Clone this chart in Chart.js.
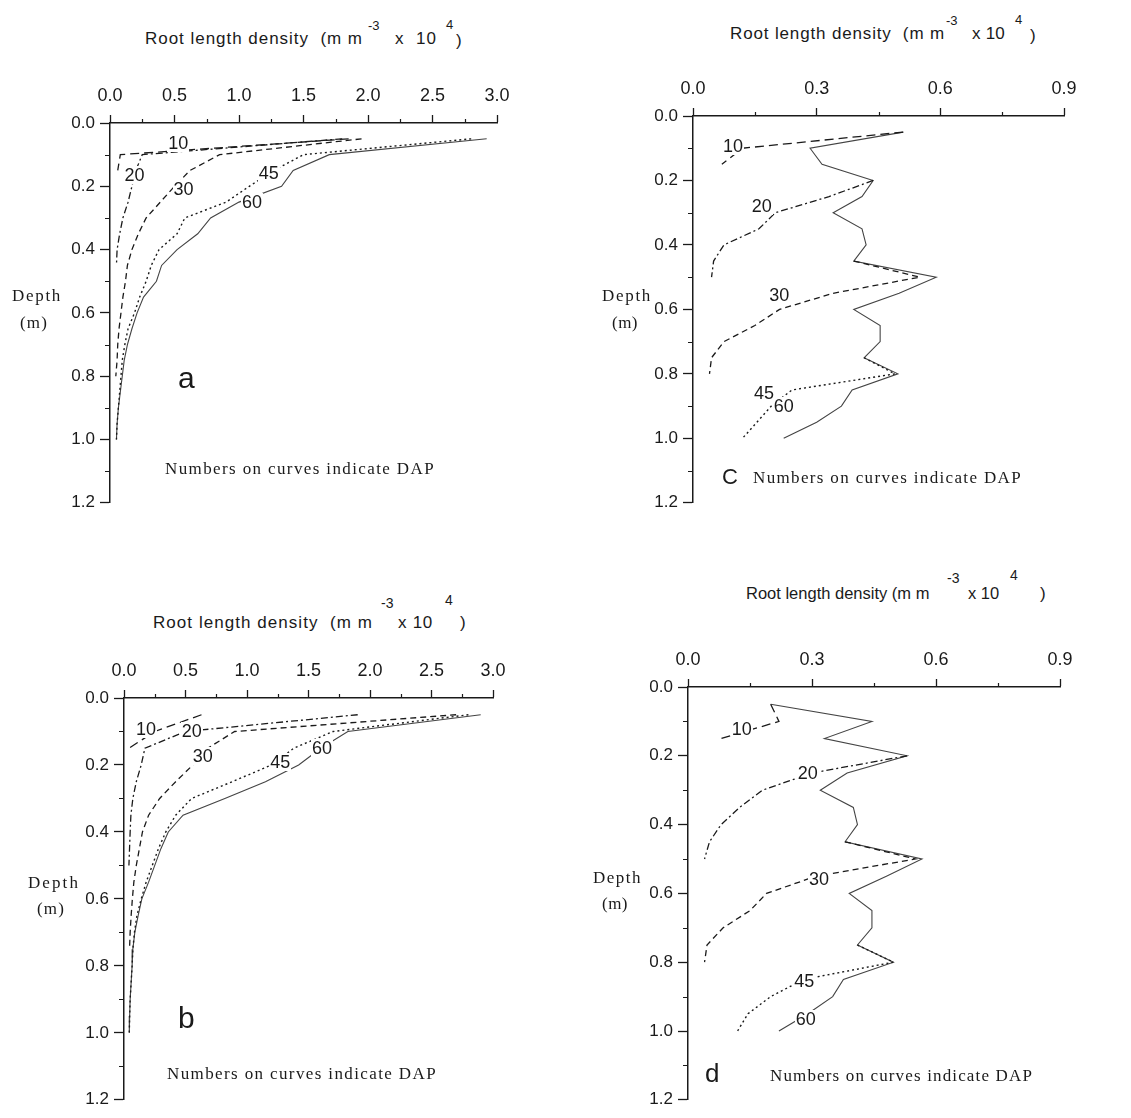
<!DOCTYPE html>
<html><head><meta charset="utf-8">
<script src="https://cdn.jsdelivr.net/npm/chart.js@4/dist/chart.umd.min.js"></script>
<style>
body{margin:0;background:#fff;width:1131px;height:1118px;position:relative;overflow:hidden;font-family:"Liberation Sans",Arial,sans-serif;color:#1a1a1a}
.box{position:absolute}
.t{position:absolute;white-space:pre;line-height:1;transform:translateY(-50%);z-index:3}
.serif{font-family:"Liberation Serif","DejaVu Serif",serif}
.cl{position:absolute;white-space:pre;line-height:1;background:#fff;padding:0 1px;transform:translate(-50%,-50%);font-size:18px;z-index:3}
</style></head><body>

<!-- panel a texts -->
<div class="t" data-w="218" style="left:145px;top:38px;font-size:17px">Root length density  (m m</div>
<div class="t" style="left:368px;top:25px;font-size:13px">-3</div>
<div class="t" data-w="42" style="left:395px;top:38px;font-size:17px">x  10</div>
<div class="t" style="left:446px;top:24px;font-size:13px">4</div>
<div class="t" style="left:456px;top:40px;font-size:17px">)</div>
<div class="t serif" data-w="50" style="left:12px;top:295px;font-size:17px">Depth</div>
<div class="t serif" data-w="28" style="left:20px;top:322px;font-size:17px">(m)</div>
<div class="t" style="left:178px;top:378px;font-size:30px">a</div>
<div class="t serif" data-w="270" style="left:165px;top:468px;font-size:17px">Numbers on curves indicate DAP</div>

<!-- panel c texts -->
<div class="t" data-w="215" style="left:730px;top:33px;font-size:17px">Root length density  (m m</div>
<div class="t" style="left:946px;top:20px;font-size:13px">-3</div>
<div class="t" data-w="33" style="left:972px;top:33px;font-size:17px">x 10</div>
<div class="t" style="left:1015px;top:19px;font-size:13px">4</div>
<div class="t" style="left:1030px;top:35px;font-size:17px">)</div>
<div class="t serif" data-w="50" style="left:602px;top:295px;font-size:17px">Depth</div>
<div class="t serif" data-w="26" style="left:612px;top:322px;font-size:17px">(m)</div>
<div class="t" style="left:722px;top:477px;font-size:22px">C</div>
<div class="t serif" data-w="269" style="left:753px;top:477px;font-size:17px">Numbers on curves indicate DAP</div>

<!-- panel b texts -->
<div class="t" data-w="220" style="left:153px;top:622px;font-size:17px">Root length density  (m m</div>
<div class="t" style="left:381px;top:603px;font-size:14px">-3</div>
<div class="t" data-w="35" style="left:398px;top:622px;font-size:17px">x 10</div>
<div class="t" style="left:445px;top:600px;font-size:14px">4</div>
<div class="t" style="left:460px;top:622px;font-size:17px">)</div>
<div class="t serif" data-w="52" style="left:28px;top:882px;font-size:17px">Depth</div>
<div class="t serif" data-w="28" style="left:37px;top:908px;font-size:17px">(m)</div>
<div class="t" style="left:178px;top:1018px;font-size:30px">b</div>
<div class="t serif" data-w="270" style="left:167px;top:1073px;font-size:17px">Numbers on curves indicate DAP</div>

<!-- panel d texts -->
<div class="t" style="left:746px;top:593px;font-size:16.5px">Root length density (m m</div>
<div class="t" style="left:947px;top:578px;font-size:14px">-3</div>
<div class="t" style="left:968px;top:593px;font-size:16.5px">x 10</div>
<div class="t" style="left:1010px;top:575px;font-size:14px">4</div>
<div class="t" style="left:1040px;top:593px;font-size:17px">)</div>
<div class="t serif" data-w="49" style="left:593px;top:877px;font-size:17px">Depth</div>
<div class="t serif" data-w="26" style="left:602px;top:903px;font-size:17px">(m)</div>
<div class="t" style="left:705px;top:1073px;font-size:26px">d</div>
<div class="t serif" data-w="263" style="left:770px;top:1075px;font-size:17px">Numbers on curves indicate DAP</div>

<div class="box" style="left:50px;top:83px;width:472px;height:435px"><canvas id="ca" width="472" height="435"></canvas></div>
<div class="box" style="left:64px;top:658px;width:454px;height:457px"><canvas id="cb" width="454" height="457"></canvas></div>
<div class="box" style="left:633px;top:76px;width:456px;height:442px"><canvas id="cc" width="456" height="442"></canvas></div>
<div class="box" style="left:628px;top:647px;width:457px;height:468px"><canvas id="cd" width="457" height="468"></canvas></div>

<script>
// ---------- DATA ----------
const depths = [0.05,0.10,0.15,0.20,0.25,0.30,0.35,0.40,0.45,0.50,0.55,0.60,0.65,0.70,0.75,0.80,0.85,0.90,0.95,1.00];
const dapLabels = ["10","20","30","45","60"];
const yTickValues = [0,0.2,0.4,0.6,0.8,1.0,1.2];
const yMinorTicks = [0.1,0.3,0.5,0.7,0.9,1.1];
const xMinorAB = [0.25,0.75,1.25,1.75,2.25,2.75];
const xMinorCD = [0.15,0.45,0.75];

// panel a
const a10 = [1.85,0.08,0.06,null,null,null,null,null,null,null,null,null,null,null,null,null,null,null,null,null];
const a20 = [1.80,0.25,0.20,0.17,0.14,0.10,0.075,0.055,0.05,null,null,null,null,null,null,null,null,null,null,null];
const a30 = [1.95,0.85,0.62,0.50,0.39,0.28,0.22,0.17,0.135,0.12,0.10,0.085,0.07,0.06,0.055,0.045,null,null,null,null];
const a45 = [2.80,1.50,1.27,1.08,0.90,0.58,0.52,0.38,0.32,0.28,0.23,0.19,0.14,0.115,0.095,0.085,0.075,0.065,0.055,0.05];
const a60 = [2.92,1.70,1.42,1.33,1.00,0.78,0.68,0.52,0.40,0.36,0.26,0.21,0.17,0.135,0.11,0.095,0.08,0.065,0.055,0.05];
const aLabelX = [0.53,0.19,0.57,1.23,1.10];
const aLabelY = [0.063,0.165,0.21,0.157,0.25];

// panel b
const b10 = [0.63,0.25,0.04,null,null,null,null,null,null,null,null,null,null,null,null,null,null,null,null,null];
const b20 = [1.90,0.50,0.17,0.14,0.10,0.072,0.056,0.05,0.045,0.04,null,null,null,null,null,null,null,null,null,null];
const b30 = [2.70,0.90,0.68,0.56,0.42,0.29,0.20,0.15,0.125,0.10,0.08,0.068,0.058,0.05,0.045,null,null,null,null,null];
const b45 = [2.80,1.70,1.38,1.20,0.88,0.55,0.42,0.34,0.28,0.23,0.18,0.14,0.105,0.085,0.072,0.066,0.058,0.05,0.046,0.043];
const b60 = [2.90,1.82,1.60,1.42,1.15,0.82,0.48,0.36,0.30,0.25,0.20,0.145,0.115,0.088,0.072,0.066,0.058,0.05,0.046,0.043];
const bLabelX = [0.18,0.55,0.64,1.27,1.61];
const bLabelY = [0.094,0.10,0.174,0.19,0.15];

// panel c
const c10 = [0.51,0.12,0.07,null,null,null,null,null,null,null,null,null,null,null,null,null,null,null,null,null];
const c20 = [null,null,null,0.437,0.33,0.20,0.16,0.075,0.05,0.045,null,null,null,null,null,null,null,null,null,null];
const c30 = [null,null,null,null,null,null,null,null,0.39,0.55,0.34,0.21,0.15,0.075,0.045,0.04,null,null,null,null];
const c45 = [null,null,null,null,null,null,null,null,null,null,null,null,null,null,0.415,0.49,0.24,0.19,0.155,0.12];
const c60 = [0.51,0.284,0.313,0.437,0.41,0.34,0.41,0.42,0.39,0.59,0.50,0.39,0.454,0.454,0.415,0.497,0.386,0.36,0.30,0.22];
const cLabelX = [0.097,0.167,0.209,0.172,0.22];
const cLabelY = [0.094,0.28,0.555,0.86,0.90];

// panel d
const d10 = [0.20,0.22,0.08,null,null,null,null,null,null,null,null,null,null,null,null,null,null,null,null,null];
const d20 = [null,null,null,0.53,0.30,0.18,0.125,0.08,0.052,0.04,null,null,null,null,null,null,null,null,null,null];
const d30 = [null,null,null,null,null,null,null,null,0.38,0.55,0.31,0.19,0.15,0.085,0.046,0.04,null,null,null,null];
const d45 = [null,null,null,null,null,null,null,null,null,null,null,null,null,null,0.41,0.497,0.28,0.20,0.145,0.12];
const d60 = [0.20,0.445,0.33,0.53,0.385,0.32,0.40,0.41,0.38,0.566,0.48,0.39,0.445,0.445,0.41,0.497,0.376,0.35,0.29,0.22];
const dLabelX = [0.13,0.29,0.317,0.281,0.285];
const dLabelY = [0.123,0.25,0.559,0.856,0.966];

// ---------- STYLE ----------
const FONT = '"Liberation Sans", Arial, sans-serif';
const INK = '#1a1a1a';
const lineStyles = [
  {dash:[9,5], color:'#1a1a1a', width:1.3},
  {dash:[7,3,2,3], color:'#1a1a1a', width:1.3},
  {dash:[6,4], color:'#1a1a1a', width:1.3},
  {dash:[2,3], color:'#1a1a1a', width:1.4},
  {dash:[], color:'#444', width:1.1}
];

// fit text widths
document.querySelectorAll('.t[data-w]').forEach(el => {
  const target = +el.dataset.w;
  const w = el.getBoundingClientRect().width;
  const n = el.textContent.length;
  let ls = (target - w) / n;
  ls = Math.max(-1.5, Math.min(4, ls));
  el.style.letterSpacing = ls + 'px';
});

const minorTicks = {
  id: 'minorTicks',
  afterDraw(chart, args, opts) {
    const {ctx, chartArea, scales} = chart;
    ctx.save();
    ctx.strokeStyle = INK;
    ctx.lineWidth = 1.2;
    ctx.beginPath();
    opts.y.forEach(v => {
      const py = Math.round(scales.y.getPixelForValue(v)) + 0.5;
      ctx.moveTo(chartArea.left - 5, py); ctx.lineTo(chartArea.left, py);
    });
    opts.x.forEach(v => {
      const px = Math.round(scales.x.getPixelForValue(v)) + 0.5;
      ctx.moveTo(px, chartArea.top - 4); ctx.lineTo(px, chartArea.top);
    });
    ctx.stroke();
    ctx.restore();
  }
};

function makePanel(canvasId, xMax, xStep, xMinor, series, labX, labY) {
  const datasets = series.map((vals, i) => ({
    label: dapLabels[i],
    data: depths.map((d, j) => ({x: vals[j], y: d})).filter(p => p.x !== null),
    borderColor: lineStyles[i].color,
    borderWidth: lineStyles[i].width,
    borderDash: lineStyles[i].dash,
    pointRadius: 0,
    tension: 0,
    fill: false
  }));
  const canvas = document.getElementById(canvasId);
  const chart = new Chart(canvas, {
    type: 'line',
    data: {datasets},
    options: {
      responsive: false,
      animation: false,
      devicePixelRatio: 1,
      layout: {padding: {top: 0, left: 0, right: 25, bottom: 10}},
      plugins: {legend: {display: false}, tooltip: {enabled: false},
                minorTicks: {x: xMinor, y: yMinorTicks}},
      scales: {
        x: {
          type: 'linear', position: 'top', min: 0, max: xMax,
          afterFit: s => { s.height = 40; },
          ticks: {stepSize: xStep, autoSkip: false, color: INK, padding: 8,
                  font: {family: FONT, size: 18},
                  callback: v => (Math.round(v * 10) / 10).toFixed(1)},
          grid: {drawOnChartArea: false, drawTicks: true, tickLength: 8, color: INK, tickWidth: 1.3},
          border: {display: true, color: INK, width: 1.5}
        },
        y: {
          type: 'linear', reverse: true, min: 0, max: 1.2,
          afterFit: s => { s.width = 60; },
          afterBuildTicks: s => { s.ticks = yTickValues.map(v => ({value: v})); },
          ticks: {autoSkip: false, color: INK, padding: 5,
                  font: {family: FONT, size: 17},
                  callback: v => (Math.round(v * 10) / 10).toFixed(1)},
          grid: {drawOnChartArea: false, drawTicks: true, tickLength: 10, color: INK, tickWidth: 1.3},
          border: {display: true, color: INK, width: 1.5}
        }
      }
    },
    plugins: [minorTicks]
  });
  // curve labels as DOM text, positioned through the chart's scales
  const box = canvas.parentElement;
  const bx = parseFloat(box.style.left), by = parseFloat(box.style.top);
  dapLabels.forEach((txt, i) => {
    const s = document.createElement('div');
    s.className = 'cl';
    s.textContent = txt;
    s.style.left = (bx + chart.scales.x.getPixelForValue(labX[i])) + 'px';
    s.style.top = (by + chart.scales.y.getPixelForValue(labY[i])) + 'px';
    document.body.appendChild(s);
  });
  return chart;
}

makePanel('ca', 3.0, 0.5, xMinorAB, [a10,a20,a30,a45,a60], aLabelX, aLabelY);
makePanel('cb', 3.0, 0.5, xMinorAB, [b10,b20,b30,b45,b60], bLabelX, bLabelY);
makePanel('cc', 0.9, 0.3, xMinorCD, [c10,c20,c30,c45,c60], cLabelX, cLabelY);
makePanel('cd', 0.9, 0.3, xMinorCD, [d10,d20,d30,d45,d60], dLabelX, dLabelY);
</script>
</body></html>
